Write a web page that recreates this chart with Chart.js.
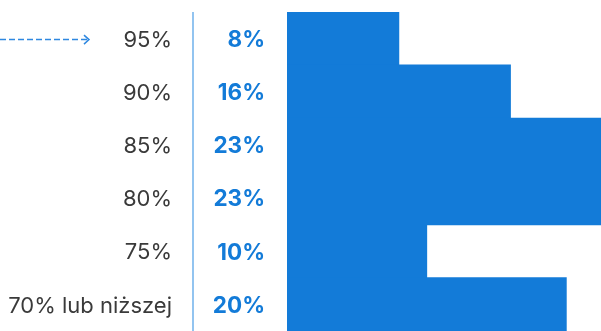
<!DOCTYPE html>
<html>
<head>
<meta charset="utf-8">
<script src="https://cdn.jsdelivr.net/npm/chart.js@4"></script>
<style>
    html, body { margin: 0; padding: 0; background: #fff; }
    #wrap { width: 601px; height: 331px; position: relative; }
</style>
</head>
<body>
<div id="wrap"><canvas id="scoreChart"></canvas></div>
<script>
// Score thresholds and share of respondents
const categories = ['95%', '90%', '85%', '80%', '75%', '70% lub niższej'];
const shares = [8, 16, 23, 23, 10, 20];
const valueLabels = ['8%', '16%', '23%', '23%', '10%', '20%'];

const BLUE = '#137bd8';

// Draws the label column, the value column, the divider and the pointer arrow
const annotations = {
    id: 'annotations',
    afterDatasetsDraw(chart) {
        const ctx = chart.ctx;
        const area = chart.chartArea;
        const yScale = chart.scales.y;
        const bars = chart.getDatasetMeta(0).data;

        ctx.save();
        ctx.textAlign = 'right';
        ctx.textBaseline = 'middle';

        // threshold names
        ctx.fillStyle = '#3a3a3a';
        ctx.font = '22px Inter';
        yScale.getLabels().forEach((label, i) => {
            ctx.fillText(label, 172, yScale.getPixelForTick(i) + 1.5);
        });

        // divider between the label column and the values
        ctx.strokeStyle = '#4a9de6';
        ctx.lineWidth = 1.2;
        ctx.beginPath();
        ctx.moveTo(193, area.top);
        ctx.lineTo(193, area.bottom);
        ctx.stroke();

        // bold percentages
        ctx.fillStyle = BLUE;
        ctx.font = 'bold 22.5px Inter';
        bars.forEach((bar, i) => {
            ctx.fillText(valueLabels[i], 265, bar.y + 1.5);
        });

        // dashed arrow pointing at the first row
        const y = bars[0].y + 1;
        ctx.strokeStyle = '#2f88e0';
        ctx.lineWidth = 1.5;
        ctx.setLineDash([6, 3]);
        ctx.beginPath();
        ctx.moveTo(0, y);
        ctx.lineTo(88, y);
        ctx.stroke();
        ctx.setLineDash([]);
        ctx.beginPath();
        ctx.moveTo(84, y - 4.5);
        ctx.lineTo(89, y);
        ctx.lineTo(84, y + 4.5);
        ctx.stroke();

        ctx.restore();
    }
};

new Chart(document.getElementById('scoreChart'), {
    type: 'bar',
    data: {
        labels: categories,
        datasets: [{
            data: shares,
            backgroundColor: BLUE,
            borderWidth: 0,
            barPercentage: 1,
            categoryPercentage: 1,
            inflateAmount: 0.6
        }]
    },
    options: {
        indexAxis: 'y',
        responsive: true,
        maintainAspectRatio: false,
        animation: false,
        layout: { padding: { top: 12, right: 0, bottom: 0, left: 287 } },
        plugins: {
            legend: { display: false },
            tooltip: { enabled: false }
        },
        scales: {
            x: {
                display: false,
                min: 0,
                max: 22.5
            },
            y: {
                display: false
            }
        }
    },
    plugins: [annotations]
});
</script>
</body>
</html>
